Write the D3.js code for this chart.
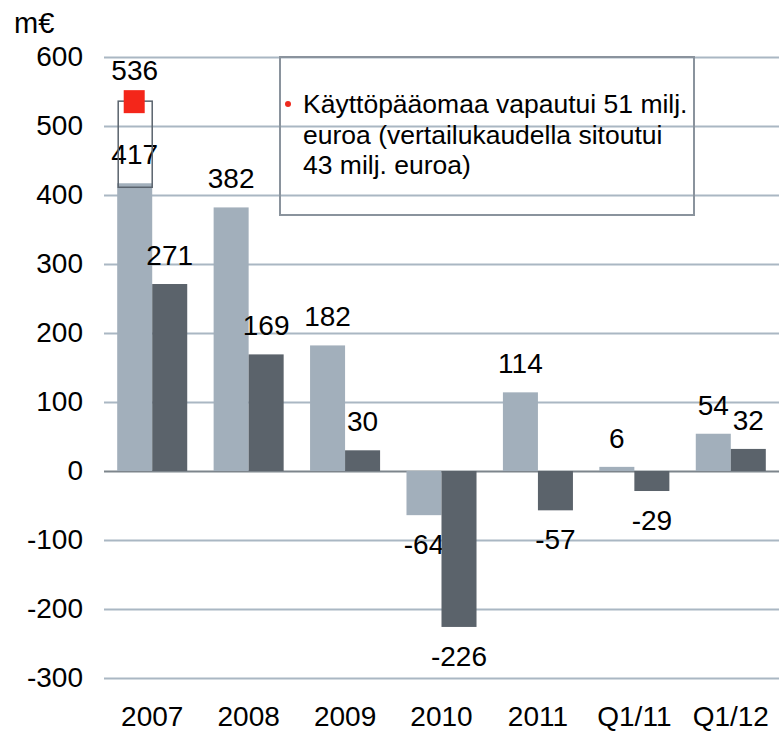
<!DOCTYPE html>
<html><head><meta charset="utf-8">
<script src="https://cdn.jsdelivr.net/npm/d3@7"></script>
<style>body{margin:0;background:#fff}text{font-family:"Liberation Sans",Arial,sans-serif}</style>
</head><body>
<svg id="c" width="779" height="731"></svg>
<script>
const categories = ["2007","2008","2009","2010","2011","Q1/11","Q1/12"];
const seriesA = [417, 382, 182, -64, 114, 6, 54];
const seriesB = [271, 169, 30, -226, -57, -29, 32];
const yTicks = [600, 500, 400, 300, 200, 100, 0, -100, -200, -300];
const peak2007 = 536;
const unitLabel = "m€";
const noteLines = ["Käyttöpääomaa vapautui 51 milj.", "euroa (vertailukaudella sitoutui", "43 milj. euroa)"];

(function(){
const svg = d3.select("#c");
const pl = 104, pr = 779, pt = 57, pb = 678;
const y = d3.scaleLinear().domain([-300, 600]).range([pb, pt]);
const x0 = d3.scaleBand().domain(categories).range([pl, pr]).padding(0);
const x1 = d3.scaleBand().domain(["a","b"]).range([0, x0.bandwidth()]).paddingInner(0).paddingOuter(0.377);
const fmt = v => String(v);

// gridlines
const grid = svg.append("g").attr("transform", `translate(${pl},0)`)
  .call(d3.axisLeft(y).tickValues(yTicks).tickSize(-(pr-pl)).tickFormat(""));
grid.select(".domain").remove();
grid.selectAll("line").attr("stroke", d => d === 0 ? "#7d858c" : "#aab7c3").attr("stroke-width", 2);

// tick labels
const ax = svg.append("g").attr("transform", `translate(83,0)`)
  .call(d3.axisLeft(y).tickValues(yTicks).tickSize(0).tickPadding(0).tickFormat(fmt));
ax.select(".domain").remove();
ax.selectAll("text").attr("font-size", 28).attr("fill", "#000").attr("font-family", "Liberation Sans, Arial, sans-serif");

svg.append("text").attr("x", 14).attr("y", 33).attr("font-size", 29).text(unitLabel);

// note box (transparent)
svg.append("rect").attr("x", 280).attr("y", 57).attr("width", 414).attr("height", 158)
  .attr("fill", "none").attr("stroke", "#8a939d").attr("stroke-width", 2);
svg.append("circle").attr("cx", 288).attr("cy", 104).attr("r", 3).attr("fill", "#ee2a1e");
svg.append("g").selectAll("text").data(noteLines).join("text")
  .attr("x", 303).attr("y", (d,i) => 113 + i*30.5).attr("font-size", 26.5).attr("fill", "#000").text(d => d);

// bars
const groups = categories.map((c,i) => ({c, a: seriesA[i], b: seriesB[i]}));
const colors = {a: "#a2afbb", b: "#5b636b"};
groups.forEach(g => {
  ["a","b"].forEach(k => {
    const v = g[k];
    const bx = x0(g.c) + x1(k);
    svg.append("rect").attr("x", bx).attr("width", x1.bandwidth())
      .attr("y", y(Math.max(0, v))).attr("height", Math.abs(y(v) - y(0)))
      .attr("fill", colors[k]);
    const cx = bx + x1.bandwidth()/2;
    const ly = v >= 0 ? y(v) - 19 : y(v) + 39;
    svg.append("text").attr("x", cx).attr("y", ly).attr("text-anchor", "middle")
      .attr("font-size", 28).attr("fill", "#000").text(fmt(v));
  });
});

// 2007 peak outline + marker
const bx07 = x0("2007") + x1("a");
svg.append("rect").attr("x", bx07 + 1).attr("y", y(peak2007)).attr("width", x1.bandwidth() - 1)
  .attr("height", y(seriesA[0]) - y(peak2007) + 4).attr("fill", "none").attr("stroke", "#5a636d").attr("stroke-width", 1.5);
svg.append("rect").attr("x", bx07 + x1.bandwidth()/2 - 11).attr("y", y(peak2007) - 11)
  .attr("width", 21).attr("height", 23).attr("fill", "#f4261a");
svg.append("text").attr("x", bx07 + x1.bandwidth()/2).attr("y", y(peak2007) - 21).attr("text-anchor", "middle")
  .attr("font-size", 28).text(fmt(peak2007));

// x labels
svg.append("g").selectAll("text").data(categories).join("text")
  .attr("x", d => x0(d) + x0.bandwidth()/2).attr("y", 726).attr("text-anchor", "middle")
  .attr("font-size", 28).text(d => d);
})();
</script>
</body></html>
